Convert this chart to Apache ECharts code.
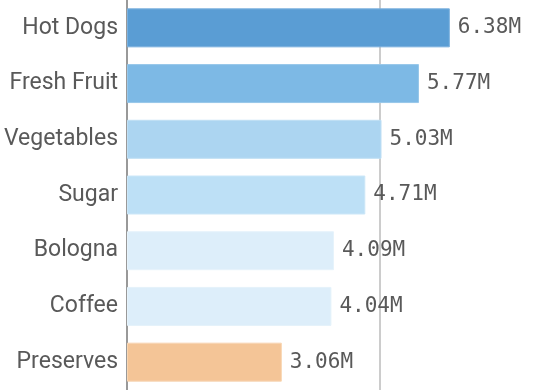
<!DOCTYPE html>
<html>
<head>
<meta charset="utf-8">
<script src="https://cdn.jsdelivr.net/npm/echarts@6/dist/echarts.min.js"></script>
<style>
html,body{margin:0;padding:0;background:#fff;}
#chart{width:543px;height:390px;}
</style>
</head>
<body>
<div id="chart"></div>
<script>
const categories = ["Hot Dogs", "Fresh Fruit", "Vegetables", "Sugar", "Bologna", "Coffee", "Preserves"];
const values = [6.38, 5.77, 5.03, 4.71, 4.09, 4.04, 3.06];
const barColors = ["#5a9dd4", "#7db9e5", "#acd5f1", "#bde0f6", "#ddeefa", "#ddeefa", "#f4c597"];
const borderColors = ["#7ab0de", "#97c7ea", "#bfdff4", "#cce7f8", "#e6f3fb", "#e6f3fb", "#f8d6b3"];

const chart = echarts.init(document.getElementById('chart'));
chart.setOption({
  animation: false,
  grid: { left: 127, top: 0, bottom: 0, width: 506, outerBoundsMode: 'none', containLabel: false },
  xAxis: {
    type: 'value', min: 0, max: 10, interval: 5,
    axisLabel: { show: false },
    axisLine: { show: false },
    axisTick: { show: false },
    splitLine: { show: true, lineStyle: { color: '#cccccc', width: 2 } }
  },
  yAxis: {
    type: 'category', inverse: true, data: categories,
    axisLine: { show: true, lineStyle: { color: '#999999', width: 2 } },
    axisTick: { show: false },
    axisLabel: { color: '#595959', fontSize: 23, fontFamily: 'Roboto', margin: 9 }
  },
  series: [{
    type: 'bar',
    barCategoryGap: '30%',
    data: values.map((v, i) => ({
      value: v,
      itemStyle: { color: barColors[i], borderColor: borderColors[i], borderWidth: 1 }
    })),
    label: {
      show: true, position: 'right', distance: 8,
      color: '#595959', fontSize: 21, fontFamily: 'DejaVu Sans Mono',
      formatter: p => p.value.toFixed(2) + 'M'
    }
  }]
});
</script>
</body>
</html>
